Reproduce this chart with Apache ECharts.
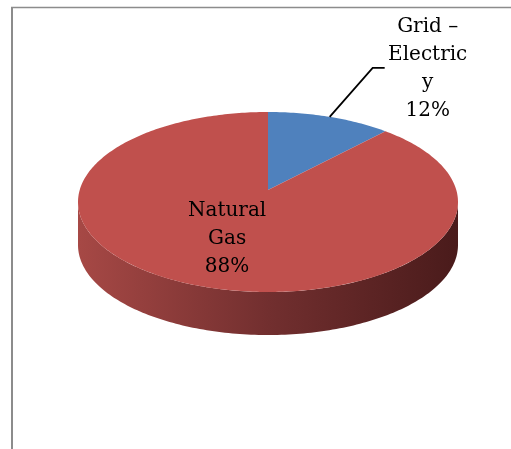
<!DOCTYPE html>
<html>
<head>
<meta charset="utf-8">
<script src="https://cdn.jsdelivr.net/npm/echarts@6/dist/echarts.min.js"></script>
<style>
  html, body { margin: 0; padding: 0; background: #ffffff; }
  #chart { width: 511px; height: 449px; }
</style>
</head>
<body>
<div id="chart"></div>
<script>
// Energy sources, share of total
const categories = ['Grid – Electricity', 'Natural Gas'];
const labelLines = [['Grid –', 'Electric', 'y'], ['Natural', 'Gas']];
const values = [12, 88];
const sliceColors = ['#4F81BD', '#C0504D'];

// Tilted-disc projection (perspective view of a circular pie)
const CX = 268, CY = 190;      // projected centre of the pie
const SX = 188.3, SY = 88.4;   // horizontal / vertical scale
const TILT = 0.1333;           // perspective strength
const DEPTH = 43;              // thickness of the disc
const FONT = '20px "DejaVu Serif"';
const LINE_H = 28;

function project(theta, r, dy) {
  const X = r * Math.sin(theta);
  const Z = r * Math.cos(theta);
  const d = 1 + TILT * Z;
  return [CX + SX * X / d, CY - SY * Z / d + (dy || 0)];
}

function arc(a0, a1, r, dy) {
  const pts = [];
  const n = Math.max(2, Math.ceil(Math.abs(a1 - a0) / (Math.PI / 180)));
  for (let k = 0; k <= n; k++) {
    pts.push(project(a0 + (a1 - a0) * k / n, r, dy));
  }
  return pts;
}

const total = values.reduce((s, v) => s + v, 0);
// visible range of the side wall (front half, between silhouette extremes)
const SIDE_R = Math.acos(-TILT);
const SIDE_L = 2 * Math.PI - SIDE_R;

const sideGradient = {
  type: 'linear', global: true,
  x: CX - SX, y: 0, x2: CX + SX, y2: 0,
  colorStops: [
    { offset: 0, color: '#A64845' },
    { offset: 0.5, color: '#722F2F' },
    { offset: 1, color: '#4A1B1B' }
  ]
};

function renderSlice(params, api) {
  const i = params.dataIndex;
  const v = api.value(0);
  let before = 0;
  for (let k = 0; k < i; k++) before += values[k];
  const a0 = 2 * Math.PI * before / total;
  const a1 = 2 * Math.PI * (before + v) / total;
  const children = [];

  // side wall
  const s0 = Math.max(a0, SIDE_R), s1 = Math.min(a1, SIDE_L);
  if (s1 > s0) {
    const topEdge = arc(s0, s1, 1, 0);
    const bottomEdge = arc(s1, s0, 1, DEPTH);
    children.push({
      type: 'polygon', z2: 1,
      shape: { points: topEdge.concat(bottomEdge) },
      style: { fill: sideGradient }
    });
  }

  // top face
  children.push({
    type: 'polygon', z2: 10,
    shape: { points: [project(0, 0)].concat(arc(a0, a1, 1, 0)) },
    style: { fill: sliceColors[i] }
  });

  // data label
  const pct = Math.round(100 * v / total) + '%';
  const lines = labelLines[i].concat([pct]);
  const mid = (a0 + a1) / 2;
  if (v / total < 0.2) {
    const p = project(mid, 1);
    const elbow = [p[0] + 43, p[1] - 49];
    const end = [elbow[0] + 12, elbow[1]];
    children.push({
      type: 'polyline', z2: 20,
      shape: { points: [p, elbow, end] },
      style: { stroke: '#000000', lineWidth: 1.8, fill: null }
    });
    children.push({
      type: 'text', z2: 20,
      style: {
        text: lines.join('\n'), x: end[0] + 43, y: end[1] + 1,
        align: 'center', verticalAlign: 'middle',
        font: FONT, lineHeight: LINE_H, fill: '#000000'
      }
    });
  } else {
    const c = project(mid, 0.55);
    children.push({
      type: 'text', z2: 20,
      style: {
        text: lines.join('\n'), x: c[0], y: c[1],
        align: 'center', verticalAlign: 'middle',
        font: FONT, lineHeight: LINE_H, fill: '#000000'
      }
    });
  }
  return { type: 'group', children: children };
}

const chart = echarts.init(document.getElementById('chart'), null, { renderer: 'canvas' });
chart.setOption({
  backgroundColor: '#ffffff',
  animation: false,
  graphic: [
    { type: 'line', shape: { x1: 11, y1: 7.5, x2: 511, y2: 7.5 }, style: { stroke: '#8C8C8C', lineWidth: 1.5 } },
    { type: 'line', shape: { x1: 12, y1: 7, x2: 12, y2: 449 }, style: { stroke: '#8C8C8C', lineWidth: 2 } }
  ],
  series: [{
    type: 'custom',
    coordinateSystem: 'none',
    renderItem: renderSlice,
    data: values.map((v, i) => ({ name: categories[i], value: [v] }))
  }]
});
</script>
</body>
</html>
